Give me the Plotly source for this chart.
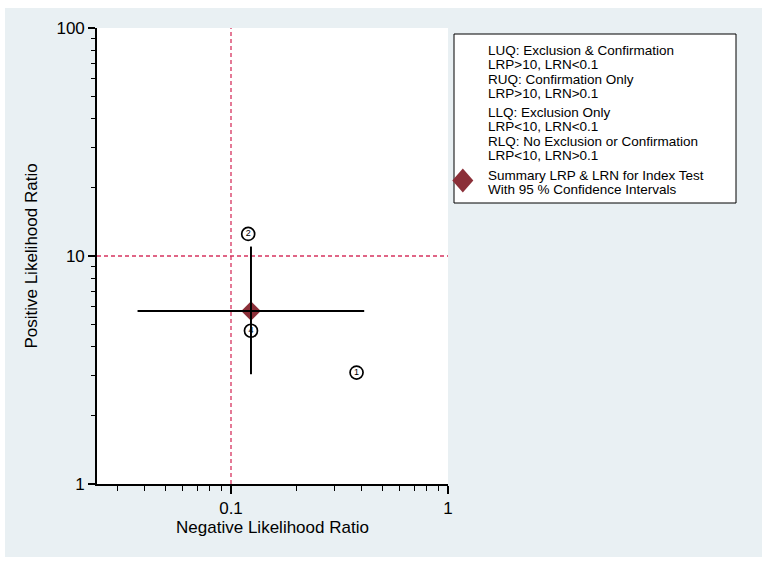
import plotly.graph_objects as go

# ---- data ----
study_labels = ["1", "2", "3", "4"]
study_lrn = [0.379, 0.120, 0.0241, 0.1236]
study_lrp = [3.08, 12.5, 9.8, 4.7]

summary_lrn = [0.1236]
summary_lrp = [5.74]
lrn_ci = [0.0371, 0.411]
lrp_ci = [3.03, 11.0]

ref_lrn = 0.1
ref_lrp = 10

y_tickvals = [1, 10, 100]
y_ticktext = ["1", "10", "100"]
x_tickvals = [0.1, 1]
x_ticktext = ["0.1", "1"]

legend_groups = [
    ["LUQ: Exclusion & Confirmation", "LRP>10, LRN<0.1",
     "RUQ: Confirmation Only", "LRP>10, LRN>0.1"],
    ["LLQ: Exclusion Only", "LRP<10, LRN<0.1",
     "RLQ: No Exclusion or Confirmation", "LRP<10, LRN>0.1"],
    ["Summary LRP & LRN for Index Test", "With 95 % Confidence Intervals"],
]
legend_group_py = [71.6, 133.9, 182.5]

# ---- layout geometry (pixels) ----
W, H = 768, 566
L, R, T, B = 97, 448, 28, 484
pw, ph = R - L, B - T

def px2x(px):
    return (px - L) / pw

def py2y(py):
    return (B - py) / ph

BG = "#e9f0f3"
REF = "#d6335f"
MAROON = "#8b2f38"
FONT = "Liberation Sans, Arial, sans-serif"

fig = go.Figure()

# reference lines
fig.add_trace(go.Scatter(x=[ref_lrn, ref_lrn], y=[1, 100], mode="lines",
                         line=dict(color=REF, width=1.3, dash="4px,3px"),
                         hoverinfo="skip", showlegend=False))
fig.add_trace(go.Scatter(x=[10 ** -1.6175, 1], y=[ref_lrp, ref_lrp], mode="lines",
                         line=dict(color=REF, width=1.3, dash="4px,3px"),
                         hoverinfo="skip", showlegend=False))

# studies
fig.add_trace(go.Scatter(x=study_lrn, y=study_lrp, mode="markers+text",
                         text=study_labels, textposition="middle center",
                         textfont=dict(size=9, color="black", family=FONT),
                         marker=dict(symbol="circle", size=13, color="white",
                                     line=dict(color="black", width=1.7)),
                         cliponaxis=False, showlegend=False))

# summary
fig.add_trace(go.Scatter(x=summary_lrn, y=summary_lrp, mode="markers",
                         marker=dict(symbol="diamond", size=15, color=MAROON,
                                     line=dict(width=0)),
                         cliponaxis=False, showlegend=False))

# confidence intervals
fig.add_trace(go.Scatter(x=lrn_ci, y=[summary_lrp[0]] * 2, mode="lines",
                         line=dict(color="black", width=2), showlegend=False))
fig.add_trace(go.Scatter(x=[summary_lrn[0]] * 2, y=lrp_ci, mode="lines",
                         line=dict(color="black", width=2), showlegend=False))

shapes = [
    dict(type="rect", xref="paper", yref="paper", layer="below",
         x0=px2x(5), x1=px2x(762), y0=py2y(557), y1=py2y(8),
         fillcolor=BG, line=dict(width=0)),
    dict(type="rect", xref="paper", yref="paper", layer="below",
         x0=0, x1=1, y0=0, y1=1, fillcolor="white", line=dict(width=0)),
    # legend box
    dict(type="rect", xref="paper", yref="paper", layer="above",
         x0=px2x(454), x1=px2x(736), y0=py2y(203), y1=py2y(34),
         fillcolor="white", line=dict(color="black", width=1)),
]
# legend diamond
cx, cy, hw, hh = 462.8, 180.5, 10.5, 12
shapes.append(dict(type="path", xref="paper", yref="paper", layer="above",
                   path=f"M {px2x(cx - hw)} {py2y(cy)} L {px2x(cx)} {py2y(cy - hh)} "
                        f"L {px2x(cx + hw)} {py2y(cy)} L {px2x(cx)} {py2y(cy + hh)} Z",
                   fillcolor=MAROON, line=dict(width=0)))

annotations = []
for lines, py in zip(legend_groups, legend_group_py):
    txt = "<br>".join(f"<span style='font-size:13.5px'>{s}</span>" for s in lines)
    annotations.append(dict(xref="paper", yref="paper", x=px2x(486), y=py2y(py),
                            xanchor="left", yanchor="middle", align="left",
                            showarrow=False, text=txt,
                            font=dict(size=11.1, color="black", family=FONT)))

fig.update_layout(
    width=W, height=H,
    margin=dict(l=L, r=W - R, t=T, b=H - B, pad=0),
    paper_bgcolor="white", plot_bgcolor="white",
    font=dict(family=FONT, color="black"),
    showlegend=False,
    shapes=shapes, annotations=annotations,
    xaxis=dict(type="log", range=[-1.6175, 0], showgrid=False, zeroline=False,
               showline=True, linecolor="black", linewidth=1.6,
               ticks="outside", ticklen=8, tickwidth=1.5, tickcolor="black",
               tickvals=x_tickvals, ticktext=x_ticktext,
               tickfont=dict(size=17, family=FONT),
               minor=dict(ticks="outside", ticklen=5, tickwidth=1.2, tickcolor="black",
                          tickvals=[0.03, 0.04, 0.05, 0.06, 0.07, 0.08, 0.09,
                                    0.2, 0.3, 0.4, 0.5, 0.6, 0.7, 0.8, 0.9],
                          showgrid=False),
               title=dict(text="Negative Likelihood Ratio", font=dict(size=17, family=FONT),
                          standoff=1)),
    yaxis=dict(type="log", range=[0, 2], showgrid=False, zeroline=False,
               showline=True, linecolor="black", linewidth=1.6,
               ticks="outside", ticklen=7, tickwidth=1.5, tickcolor="black",
               tickvals=y_tickvals, ticktext=y_ticktext,
               tickfont=dict(size=17, family=FONT),
               minor=dict(ticks="outside", ticklen=4, tickwidth=1.2, tickcolor="black",
                          tickvals=[2, 3, 4, 5, 6, 7, 8, 9, 20, 30, 40, 50, 60, 70, 80, 90],
                          showgrid=False),
               title=dict(text="Positive Likelihood Ratio", font=dict(size=17, family=FONT),
                          standoff=14)),
)

fig.write_html("out.html")
